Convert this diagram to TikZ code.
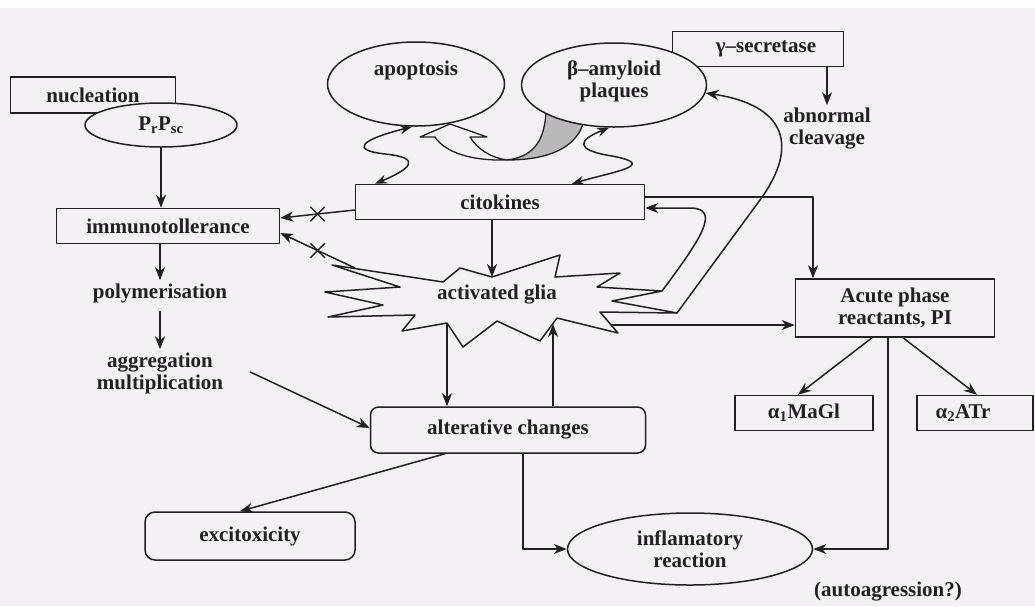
\documentclass[tikz,border=0pt]{standalone}
\usepackage{fontspec}
\setmainfont{Liberation Serif}
\usetikzlibrary{arrows.meta,shapes.geometric,shapes.misc,calc}
\definecolor{bg}{RGB}{243,241,244}
\definecolor{ink}{RGB}{35,32,35}
\begin{document}
\begin{tikzpicture}[x=1pt,y=-1pt, line join=round,
  every node/.style={font=\fontsize{21}{22}\selectfont\bfseries, text=ink},
  box/.style={draw=ink, line width=1.5pt, fill=bg, inner sep=0pt},
  rbox/.style={box, rounded corners=8pt},
  ell/.style={ellipse, draw=ink, line width=1.5pt, fill=bg, inner sep=0pt},
  txt/.style={inner sep=3pt, align=center},
  conn/.style={draw=ink, line width=1.5pt},
  arr/.style={conn, -{Stealth[length=13pt,width=10pt,inset=4pt]}},
  darr/.style={conn, {Stealth[length=12pt,width=9pt,inset=4pt]}-{Stealth[length=12pt,width=9pt,inset=4pt]}},
  xmark/.style={cross out, draw=ink, line width=1.4pt, minimum size=13pt, inner sep=0pt}
]
\fill[bg] (0,0) rectangle (1035,606);
\fill[white] (0,0) rectangle (1035,8);
\useasboundingbox (0,0) rectangle (1035,606);

% top row
\node[box, minimum width=171, minimum height=35] (gam) at (758,49) {};
\node[txt] (gamT) at (766,49) {γ–secretase};
\node[ell, minimum width=177, minimum height=84] (apo) at (416,84) {};
\node[txt] (apoT) at (416,70) {apoptosis};

% twisted ribbon arrow
\filldraw[fill=bg, draw=ink, line width=1.3pt] (507,160) .. controls (470,161) and (445,152) .. (435,137) -- (420,137) -- (450,124) -- (487,137) -- (470,137) .. controls (478,150) and (492,158) .. (507,160) -- cycle;
\filldraw[fill=gray!55, draw=ink, line width=1.3pt] (507,160) .. controls (560,160) and (585,140) .. (585,110) -- (546,110) .. controls (545,145) and (530,157) .. (507,160) -- cycle;

\node[ell, minimum width=185, minimum height=84] (bam) at (614,85) {};
\node[txt] (bamT) at (614,81) {β–amyloid\\plaques};
\node[txt] (abn) at (827,129) {abnormal\\cleavage};

% left column
\node[box, minimum width=165, minimum height=36] (nuc) at (93,95) {nucleation};
\node[ell, minimum width=152, minimum height=44] (prp) at (161,125) {P\textsubscript{r}P\textsubscript{sc}};
\node[box, minimum width=223, minimum height=35] (imm) at (168,226) {immunotollerance};
\node[txt] (poly) at (160,293) {polymerisation};
\node[txt] (agg) at (160,373) {aggregation\\multiplication};

% middle
\node[box, minimum width=289, minimum height=35] (cit) at (500,202) {citokines};
\filldraw[fill=bg, draw=ink, line width=1.5pt] (332,265) -- (443,282) -- (460,268) -- (492,277) -- (560,255) -- (555,277) -- (620,273) -- (597,287) -- (662,291) -- (612,301) -- (677,313) -- (600,312) -- (618,333) -- (557,318) -- (540,341) -- (497,321) -- (463,347) -- (447,323) -- (402,331) -- (415,315) -- (328,317) -- (383,305) -- (325,292) -- (400,287) -- cycle;
\node (glia) at (497,295) {activated glia};
\coordinate (gUL) at (355,268);
\coordinate (gTop) at (492,277);
\coordinate (gB1) at (447,323);
\coordinate (gB2) at (553,324);
\coordinate (gR2) at (662,291);
\coordinate (gR3) at (677,313);
\coordinate (gR5) at (611,325);

\node[rbox, minimum width=275, minimum height=46] (alt) at (508,430) {alterative changes};
\node[rbox, minimum width=210, minimum height=48, rounded corners=10pt] (exc) at (250,536) {excitoxicity};
\node[ell, minimum width=245, minimum height=72, align=center] (inf) at (690,549) {inflamatory\\reaction};

% right
\node[box, minimum width=199, minimum height=58, align=center] (acu) at (895,308) {Acute phase\\reactants, PI};
\node[box, minimum width=138, minimum height=35] (a1) at (804,413) {α\textsubscript{1}MaGl};
\node[box, minimum width=116, minimum height=35] (a2) at (975,413) {};
\node[txt] (a2T) at (963,413) {α\textsubscript{2}ATr};
\node[txt] (auto) at (888,592) {(autoagression?)};

% connectors
\draw[arr] (prp.south) -- (prp.south |- imm.north);
\draw[arr] (poly |- imm.south) -- (poly.north);
\draw[arr, shorten <=5pt] (poly.south) -- (agg.north);
\draw[arr] ([xshift=24pt,yshift=1pt]agg.east) -- ([yshift=2pt]alt.west);
\draw[arr] ([xshift=-63pt]alt.south) -- ([xshift=-10pt]exc.north);
\draw[arr] ([xshift=15pt]alt.south) |- (inf.west);
\draw[arr] (gB1) -- (gB1 |- alt.north);
\draw[arr] (gB2 |- alt.north) -- (gB2);
\draw[arr] (gTop |- cit.south) -- (gTop);
\draw[arr] ([yshift=-8pt]cit.west) -- node[xmark, pos=0.5] (x1) {} ([yshift=8pt]imm.east);
\draw[arr] (gUL) -- node[xmark, pos=0.5] (x2) {} ([yshift=-7pt]imm.east);
\draw[arr] ([yshift=5pt]cit.east) -| ([xshift=-82pt]acu.north);
\draw[arr] (gR2) .. controls (700,240) and (722,208) .. (690,208) -- ([yshift=-6pt]cit.east);
\draw[arr] (gR3) -- (760,200) .. controls (800,145) and (785,105) .. (bam.-5);
\draw[arr] (gR5) -- (gR5 -| acu.west);
\draw[arr] ([xshift=-23pt]acu.south) -- ([xshift=-6pt]a1.north);
\draw[arr] ([xshift=8pt]acu.south) -- ([xshift=2pt]a2.north);
\draw[arr] ([xshift=-7pt]acu.south) |- (inf.east);
\draw[arr] ([xshift=69pt]gam.south) -- (abn.north);
\draw[darr] ([xshift=-125pt]cit.north) .. controls (408,170) and (425,158) .. (385,154) .. controls (350,150) and (360,140) .. ([xshift=-4pt]apo.south);
\draw[darr] ([xshift=72pt]cit.north) .. controls (612,172) and (660,165) .. (612,156) .. controls (574,150) and (578,140) .. ([xshift=-5pt]bam.south);
\end{tikzpicture}
\end{document}
